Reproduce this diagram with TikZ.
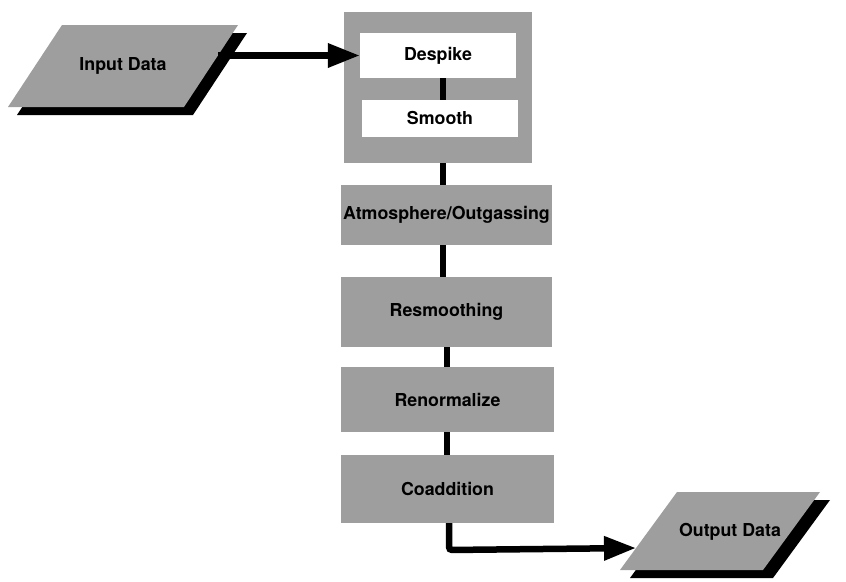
\documentclass[tikz,border=0pt]{standalone}
\usepackage{fontspec}
\setmainfont{TeX Gyre Heros}
\usetikzlibrary{arrows.meta,calc}
\begin{document}
\begin{tikzpicture}[x=1pt,y=-1pt,
  txt/.style={font=\bfseries\fontsize{17.8}{20}\selectfont, text=black},
  proc/.style={txt, fill=black!38, inner sep=0pt},
  whitebox/.style={txt, fill=white, inner sep=0pt},
  iotext/.style={txt, inner sep=0pt},
  halftone/.style={fill=black!38},
  shade/.style={fill=black},
  link/.style={line width=6.5pt, draw=black},
  flow/.style={link, -{Triangle[length=32pt,width=23pt]}}
]
\useasboundingbox (0,0) rectangle (846,581);

% ---- Input Data parallelogram ----
\fill[shade] (71,33) -- (247,33) -- (193,115) -- (17,115) -- cycle;
\fill[halftone] (62,25) -- (238,25) -- (184,107) -- (8,107) -- cycle;
\node[iotext] (in) at (123,66) {Input Data};
\coordinate (inR) at (218,55.5);

% ---- group box with Despike / Smooth ----
\node[fill=black!38, minimum width=188pt, minimum height=151pt, inner sep=0pt] (grp) at (438,87.5) {};
\node[whitebox, minimum width=156pt, minimum height=45pt] (despike) at (438,55.5) {Despike};
\node[whitebox, minimum width=156pt, minimum height=37pt] (smooth) at (440,118.5) {Smooth};

% ---- process boxes ----
\node[proc, minimum width=211pt, minimum height=60pt] (atm) at (446.5,215) {Atmosphere/Outgassing};
\node[proc, minimum width=211pt, minimum height=70pt] (resm) at (446.5,312) {Resmoothing};
\node[proc, minimum width=213pt, minimum height=65pt] (renorm) at (447.5,399.5) {Renormalize};
\node[proc, minimum width=213pt, minimum height=68pt] (coadd) at (447.5,489) {Coaddition};

% ---- Output Data parallelogram ----
\fill[shade] (687,500) -- (830,500) -- (773,578) -- (630,578) -- cycle;
\fill[halftone] (677,492) -- (820,492) -- (763,570) -- (620,570) -- cycle;
\node[iotext] (out) at (730,532) {Output Data};
\coordinate (outL) at (636,548);

% ---- column guides ----
\coordinate (cA) at (443,0);
\coordinate (cB) at (447,0);
\coordinate (cC) at (449,0);
\coordinate (turn) at (449,550);

% ---- connectors ----
\draw[flow] (inR) -- (despike.west);
\draw[link] (despike.south -| cA) -- (smooth.north -| cA);
\draw[link] (grp.south -| cA) -- (atm.north -| cA);
\draw[link] (atm.south -| cA) -- (resm.north -| cA);
\draw[link] (resm.south -| cB) -- (renorm.north -| cB);
\draw[link] (renorm.south -| cB) -- (coadd.north -| cB);
\draw[flow, rounded corners=3pt] (coadd.south -| cC) -- (turn) -- (outL);
\end{tikzpicture}
\end{document}
